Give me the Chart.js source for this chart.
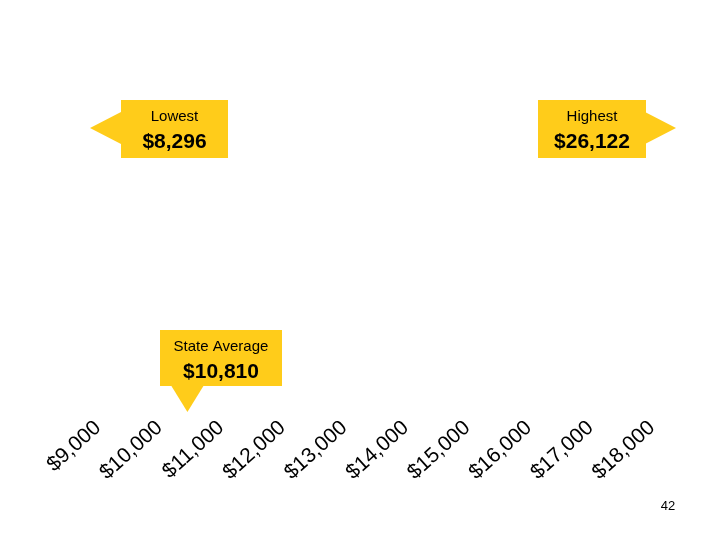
<!DOCTYPE html>
<html><head><meta charset="utf-8">
<script src="https://cdn.jsdelivr.net/npm/chart.js@4"></script>
<style>html,body{margin:0;background:#fff}#w{width:720px;height:540px;position:relative}</style>
</head><body><div id="w"><canvas id="c" width="720" height="540"></canvas></div>
<script>
const tickValues=[9000,10000,11000,12000,13000,14000,15000,16000,17000,18000];
const lowest=8296, highest=26122, stateAverage=10810;
const yellow='#FFCC1A';
const fmt=v=>'$'+v.toLocaleString('en-US');
const callouts={id:'callouts',afterDraw(ch){
 const c=ch.ctx;c.save();
 function box(x,y,w,h,t1,t2){c.fillStyle=yellow;c.fillRect(x,y,w,h);c.fillStyle='#000';c.textAlign='center';
  c.font='15px "Liberation Sans"';c.fillText(t1,x+w/2,y+21);c.font='bold 21px "Liberation Sans"';c.fillText(t2,x+w/2,y+48);}
 c.fillStyle=yellow;
 c.beginPath();c.moveTo(121,112);c.lineTo(90,128);c.lineTo(121,144);c.fill();
 c.beginPath();c.moveTo(645,112);c.lineTo(676,128);c.lineTo(645,144);c.fill();
 box(121,100,107,58,'Lowest',fmt(lowest));
 box(538,100,108,58,'Highest',fmt(highest));
 const ax=ch.scales.x.getPixelForValue(stateAverage)-22;
 c.fillStyle=yellow;c.beginPath();c.moveTo(ax-16,386);c.lineTo(ax+16,386);c.lineTo(ax,412);c.fill();
 box(160,330,122,56,'State Average',fmt(stateAverage));
 c.fillStyle='#000';c.font='13px "Liberation Sans"';c.textAlign='center';c.fillText('42',668,510);
 c.restore();}};
new Chart(document.getElementById('c'),{type:'scatter',
 data:{datasets:[{data:[]}]},
 options:{responsive:false,animation:false,
  layout:{padding:{left:98,right:68,top:20,bottom:52}},
  plugins:{legend:{display:false},tooltip:{enabled:false}},
  scales:{y:{display:false,min:0,max:1},
   x:{type:'linear',min:9000,max:18000,afterBuildTicks:a=>{a.ticks=tickValues.map(v=>({value:v}));},
    grid:{display:false},border:{display:false},
    ticks:{maxRotation:42,minRotation:42,color:'#000',font:{family:'Liberation Sans',size:21},callback:v=>fmt(v)}}}},
 plugins:[callouts]});
</script></body></html>
